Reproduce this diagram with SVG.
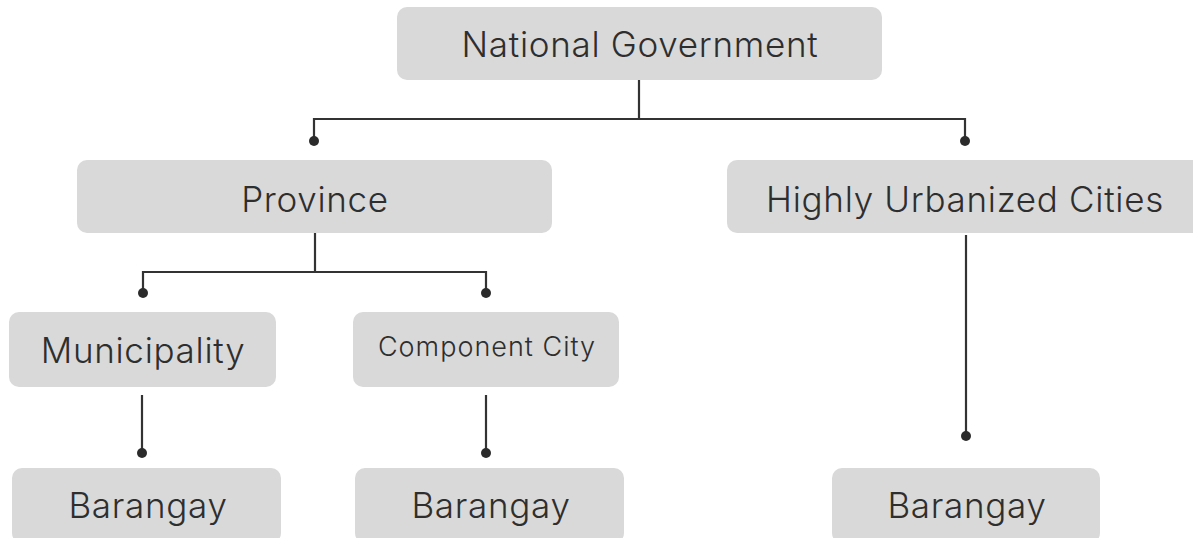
<svg xmlns="http://www.w3.org/2000/svg" width="1193" height="538" viewBox="0 0 1193 538">
<style>
.box{fill:#d9d9d9;}
.t{font-family:Inter,"Liberation Sans",sans-serif;font-size:35px;font-weight:300;letter-spacing:0.7px;fill:#2e2e2e;text-anchor:middle;}
.s{font-size:27px;letter-spacing:1px;}
.c{fill:none;stroke:#333333;stroke-width:2.2;}
.d{fill:#2b2b2b;}
</style>
<rect width="1193" height="538" fill="#ffffff"/>
<g id="connectors">
<path class="c" d="M639 80 V119 M314 141 V119 H965 V141"/>
<circle class="d" cx="314" cy="141" r="5"/>
<circle class="d" cx="965" cy="141" r="5"/>
<path class="c" d="M315 233 V272 M143 293 V272 H486 V293"/>
<circle class="d" cx="143" cy="293" r="5"/>
<circle class="d" cx="486" cy="293" r="5"/>
<path class="c" d="M142 395 V453"/>
<circle class="d" cx="142" cy="453" r="5"/>
<path class="c" d="M486 395 V453"/>
<circle class="d" cx="486" cy="453" r="5"/>
<path class="c" d="M966 235 V436"/>
<circle class="d" cx="966" cy="436" r="5"/>
</g>
<g id="national">
<rect class="box" x="397" y="7" width="485" height="73" rx="10"/>
<text class="t" x="640" y="57">National Government</text>
</g>
<g id="province">
<rect class="box" x="77" y="160" width="475" height="73" rx="10"/>
<text class="t" x="315" y="212">Province</text>
</g>
<g id="huc">
<rect class="box" x="727" y="160" width="480" height="73" rx="10"/>
<text class="t" x="965" y="212">Highly Urbanized Cities</text>
</g>
<g id="municipality">
<rect class="box" x="9" y="312" width="267" height="75" rx="10"/>
<text class="t" x="143" y="363">Municipality</text>
</g>
<g id="component">
<rect class="box" x="353" y="312" width="266" height="75" rx="10"/>
<text class="t s" x="487" y="356">Component City</text>
</g>
<g id="barangay1">
<rect class="box" x="12" y="468" width="269" height="75" rx="10"/>
<text class="t" x="148" y="518">Barangay</text>
</g>
<g id="barangay2">
<rect class="box" x="355" y="468" width="269" height="75" rx="10"/>
<text class="t" x="491" y="518">Barangay</text>
</g>
<g id="barangay3">
<rect class="box" x="832" y="468" width="268" height="75" rx="10"/>
<text class="t" x="967" y="518">Barangay</text>
</g>
</svg>
